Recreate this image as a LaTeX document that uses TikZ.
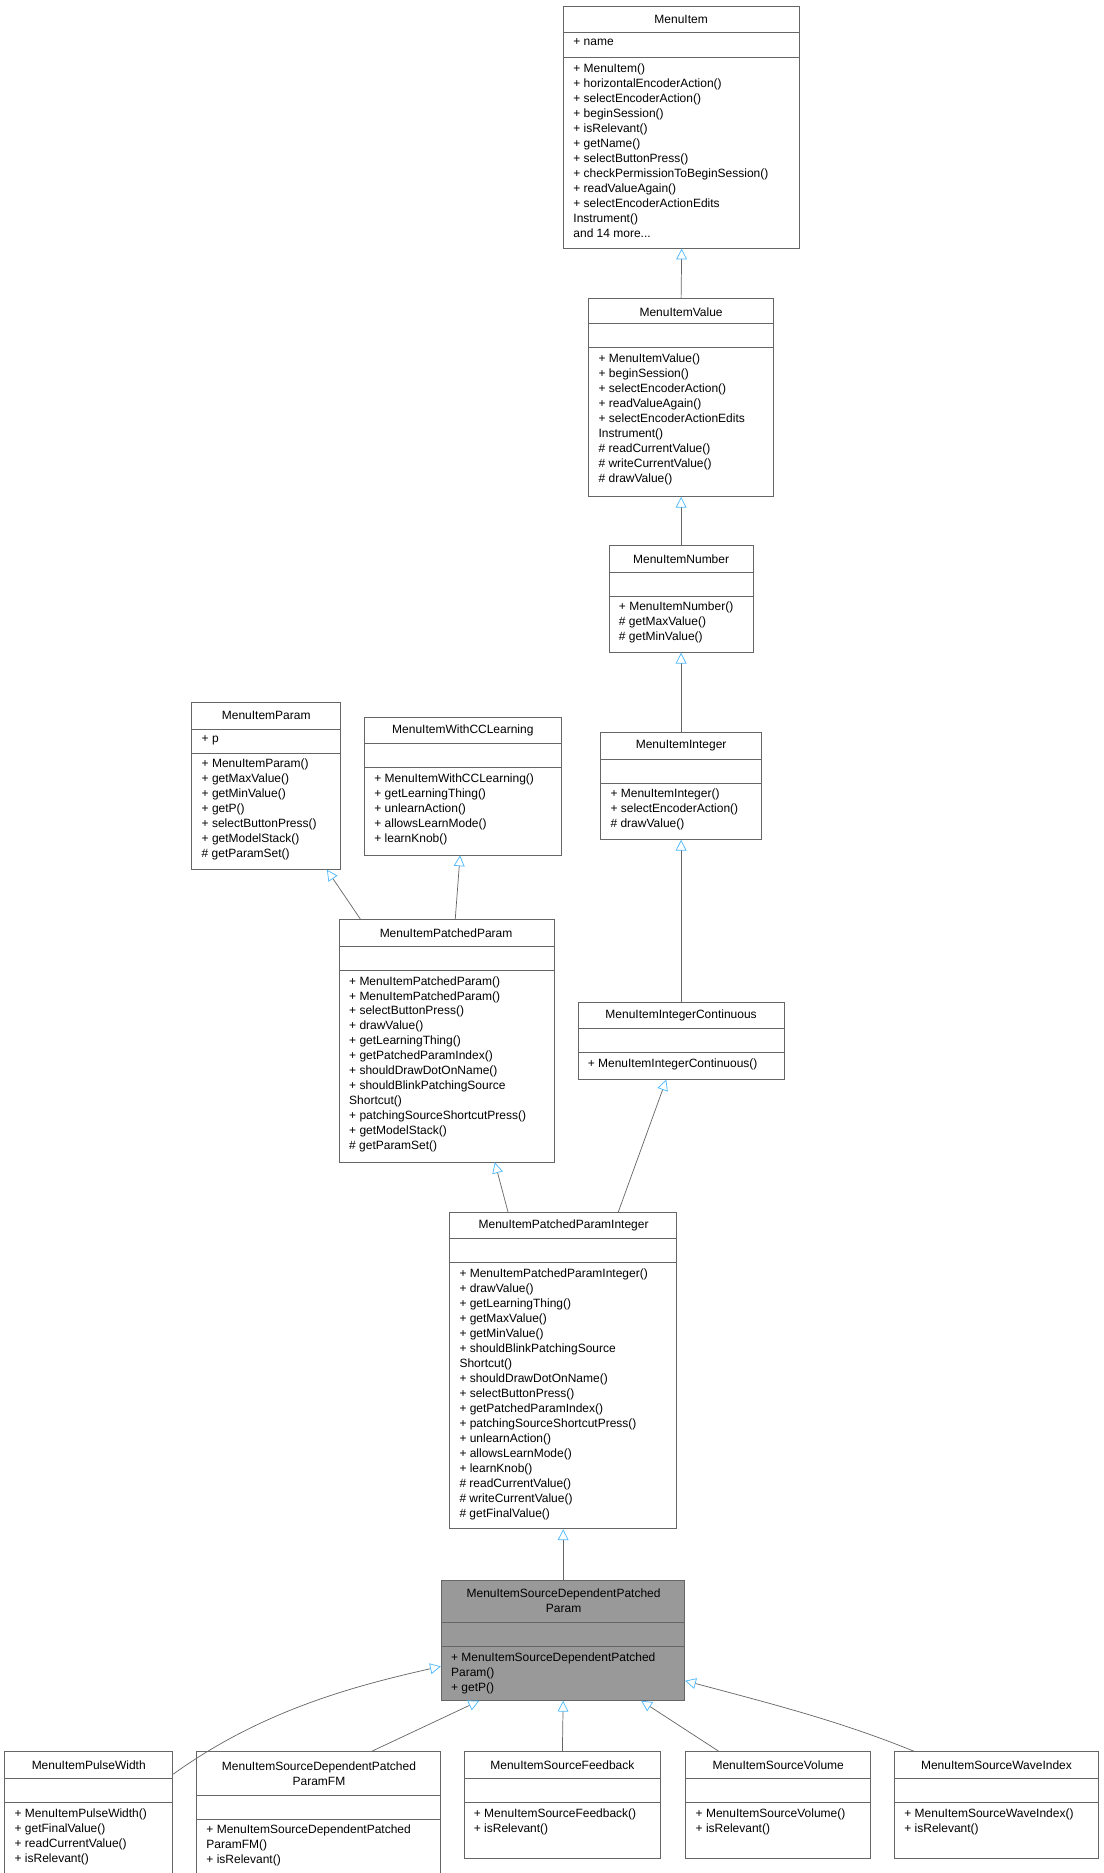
\documentclass[tikz,border=0pt]{standalone}
\usepackage{fontspec}
\setmainfont{Liberation Sans}
\usetikzlibrary{arrows.meta,fit,calc}
\tikzset{
 boxfr/.style={draw=black!60,inner sep=0pt,line width=0.7pt},
 inh/.style={draw=black!60,line width=0.6pt,{Triangle[open,length=9pt,width=9pt,color=blue!40!cyan!70]}-}
}
\newcommand{\cls}[8]{%
 \node[boxfr,fill=#8,fit={(#2,#3)(#4,#5)}] (#1) {};
 \draw[black!60,line width=0.7pt] (#2,#6)--(#4,#6);
 \draw[black!60,line width=0.7pt] (#2,#7)--(#4,#7);
}
\begin{document}
\begin{tikzpicture}[x=1pt,y=-1pt,font=\fontsize{10}{12.5}\selectfont]
\useasboundingbox (0,0) rectangle (920,1562);
\tikzset{T/.style={align=center,inner sep=0pt},M/.style={anchor=north west,align=left,inner sep=0pt}}
% MenuItem
\cls{mi}{470}{5}{667}{207}{27}{48}{white}
\node[T] at (568,16) {MenuItem};
\node[M] at (478,32) {+ name};
\node[M] at (478,53) {+ MenuItem()\\+ horizontalEncoderAction()\\+ selectEncoderAction()\\+ beginSession()\\+ isRelevant()\\+ getName()\\+ selectButtonPress()\\+ checkPermissionToBeginSession()\\+ readValueAgain()\\+ selectEncoderActionEdits\\Instrument()\\and 14 more...};
% Value
\cls{mv}{491}{249}{645}{414}{270}{290}{white}
\node[T] at (568,260) {MenuItemValue};
\node[M] at (499,295) {+ MenuItemValue()\\+ beginSession()\\+ selectEncoderAction()\\+ readValueAgain()\\+ selectEncoderActionEdits\\Instrument()\\\# readCurrentValue()\\\# writeCurrentValue()\\\# drawValue()};
% Number
\cls{mn}{508}{455}{628}{544}{477}{497}{white}
\node[T] at (568,466) {MenuItemNumber};
\node[M] at (516,502) {+ MenuItemNumber()\\\# getMaxValue()\\\# getMinValue()};
% Integer
\cls{mint}{501}{611}{635}{700}{633}{653}{white}
\node[T] at (568,622) {MenuItemInteger};
\node[M] at (509,658) {+ MenuItemInteger()\\+ selectEncoderAction()\\\# drawValue()};
% IntegerContinuous
\cls{mic}{482}{836}{654}{900}{858}{878}{white}
\node[T] at (568,847) {MenuItemIntegerContinuous};
\node[M] at (490,883) {+ MenuItemIntegerContinuous()};
% Param
\cls{mp}{160}{586}{284}{725}{608}{628}{white}
\node[T] at (222,597) {MenuItemParam};
\node[M] at (168,613) {+ p};
\node[M] at (168,633) {+ MenuItemParam()\\+ getMaxValue()\\+ getMinValue()\\+ getP()\\+ selectButtonPress()\\+ getModelStack()\\\# getParamSet()};
% CC
\cls{cc}{304}{598}{468}{713}{620}{640}{white}
\node[T] at (386,609) {MenuItemWithCCLearning};
\node[M] at (312,645) {+ MenuItemWithCCLearning()\\+ getLearningThing()\\+ unlearnAction()\\+ allowsLearnMode()\\+ learnKnob()};
% PatchedParam
\cls{pp}{283}{767}{462}{969}{789}{809}{white}
\node[T] at (372,778) {MenuItemPatchedParam};
\node[M] at (291,814) {+ MenuItemPatchedParam()\\+ MenuItemPatchedParam()\\+ selectButtonPress()\\+ drawValue()\\+ getLearningThing()\\+ getPatchedParamIndex()\\+ shouldDrawDotOnName()\\+ shouldBlinkPatchingSource\\Shortcut()\\+ patchingSourceShortcutPress()\\+ getModelStack()\\\# getParamSet()};
% PPI
\cls{ppi}{375}{1011}{564}{1275}{1033}{1053}{white}
\node[T] at (470,1022) {MenuItemPatchedParamInteger};
\node[M] at (383,1058) {+ MenuItemPatchedParamInteger()\\+ drawValue()\\+ getLearningThing()\\+ getMaxValue()\\+ getMinValue()\\+ shouldBlinkPatchingSource\\Shortcut()\\+ shouldDrawDotOnName()\\+ selectButtonPress()\\+ getPatchedParamIndex()\\+ patchingSourceShortcutPress()\\+ unlearnAction()\\+ allowsLearnMode()\\+ learnKnob()\\\# readCurrentValue()\\\# writeCurrentValue()\\\# getFinalValue()};
% SDPP
\cls{sd}{368}{1318}{571}{1418}{1353}{1373}{black!40}
\node[T] at (470,1335) {MenuItemSourceDependentPatched\\Param};
\node[M] at (376,1378) {+ MenuItemSourceDependentPatched\\Param()\\+ getP()};
% bottom row
\cls{pw}{4}{1461}{144}{1563}{1483}{1503}{white}
\node[T] at (74,1472) {MenuItemPulseWidth};
\node[M] at (12,1508) {+ MenuItemPulseWidth()\\+ getFinalValue()\\+ readCurrentValue()\\+ isRelevant()};
\cls{fm}{164}{1461}{367}{1563}{1497}{1517}{white}
\node[T] at (266,1479) {MenuItemSourceDependentPatched\\ParamFM};
\node[M] at (172,1522) {+ MenuItemSourceDependentPatched\\ParamFM()\\+ isRelevant()};
\cls{fb}{387}{1461}{551}{1550}{1483}{1503}{white}
\node[T] at (469,1472) {MenuItemSourceFeedback};
\node[M] at (395,1508) {+ MenuItemSourceFeedback()\\+ isRelevant()};
\cls{vo}{572}{1461}{726}{1550}{1483}{1503}{white}
\node[T] at (649,1472) {MenuItemSourceVolume};
\node[M] at (580,1508) {+ MenuItemSourceVolume()\\+ isRelevant()};
\cls{wi}{746}{1461}{916}{1550}{1483}{1503}{white}
\node[T] at (831,1472) {MenuItemSourceWaveIndex};
\node[M] at (754,1508) {+ MenuItemSourceWaveIndex()\\+ isRelevant()};
% inheritance
\draw[inh] (mi.south) -- (mv.north);
\draw[inh] (mv.south) -- (mn.north);
\draw[inh] (mn.south) -- (mint.north);
\draw[inh] (mint.south) -- (mic.north);
\draw[inh] ($(mp.south west)+(113,0)$) -- ($(pp.north west)+(18,0)$);
\draw[inh] ($(cc.south west)+(80,0)$) -- ($(pp.north west)+(97,0)$);
\draw[inh] ($(pp.south west)+(130,0)$) -- ($(ppi.north west)+(49,0)$);
\draw[inh] ($(mic.south west)+(74,0)$) -- ($(ppi.north west)+(141,0)$);
\draw[inh] ($(ppi.south west)+(95,0)$) -- ($(sd.north west)+(102,0)$);
\draw[inh] ($(sd.north west)+(0,72)$) .. controls (300,1405) and (220,1425) .. ($(pw.north east)+(0,19)$);
\draw[inh] ($(sd.south west)+(32,0)$) -- ($(fm.north west)+(146,0)$);
\draw[inh] ($(sd.south west)+(102,0)$) -- (fb.north);
\draw[inh] ($(sd.south west)+(167,0)$) -- ($(vo.north west)+(28,0)$);
\draw[inh] ($(sd.north east)+(0,84)$) .. controls (640,1420) and (700,1435) .. ($(wi.north west)+(17,0)$);
\end{tikzpicture}
\end{document}
